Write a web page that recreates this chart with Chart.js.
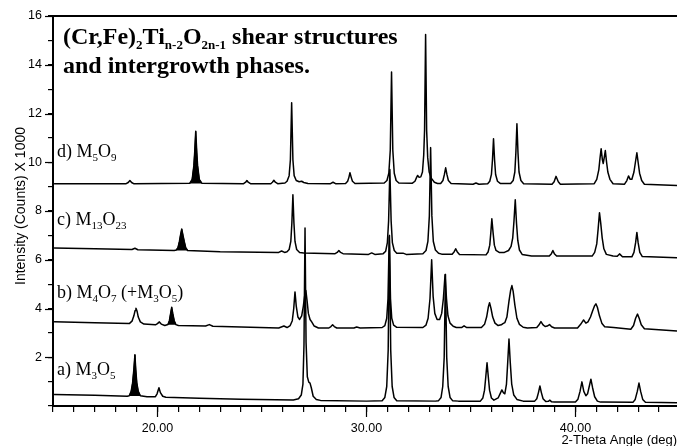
<!DOCTYPE html>
<html>
<head>
<meta charset="utf-8">
<script src="https://cdn.jsdelivr.net/npm/chart.js@4.4.1/dist/chart.umd.min.js"></script>
<style>
html,body{margin:0;padding:0;background:#fff;}
canvas{display:block;}
</style>
</head>
<body>
<canvas id="c" width="677" height="446"></canvas>
<script>
// ---- data (2-theta in deg, intensity in counts x 1000) ----
const xTickLabels = ['20.00', '30.00', '40.00'];
const yTickLabels = ['2', '4', '6', '8', '10', '12', '14', '16'];

const traceA = [[15.05,0.47],[17,0.44],[18.55,0.4],[18.65,0.42],[18.74,0.6],[18.81,0.95],[18.87,1.5],[18.92,2.1],[18.96,1.5],[19.01,0.95],[19.08,0.6],[19.18,0.42],[19.5,0.38],[19.9,0.38],[19.98,0.5],[20.07,0.75],[20.14,0.55],[20.25,0.4],[20.4,0.36],[22,0.32],[24,0.28],[26.5,0.25],[26.75,0.3],[26.88,0.45],[26.96,0.9],[27.01,2.5],[27.06,7.3],[27.11,2.6],[27.17,1.2],[27.24,0.98],[27.3,0.94],[27.36,0.75],[27.45,0.4],[27.6,0.27],[27.8,0.23],[30,0.2],[30.75,0.22],[30.88,0.35],[30.97,0.8],[31.04,2.3],[31.1,7.0],[31.16,2.3],[31.23,0.8],[31.32,0.35],[31.45,0.22],[33.3,0.2],[33.45,0.22],[33.57,0.35],[33.65,0.8],[33.72,2.0],[33.78,5.4],[33.84,2.0],[33.91,0.8],[34.0,0.35],[34.12,0.22],[34.4,0.2],[35.45,0.2],[35.57,0.33],[35.65,0.65],[35.71,1.2],[35.77,1.77],[35.83,1.2],[35.89,0.65],[35.98,0.33],[36.1,0.24],[36.3,0.33],[36.42,0.55],[36.48,0.66],[36.55,0.55],[36.62,0.5],[36.7,0.9],[36.76,1.8],[36.82,2.75],[36.88,1.8],[36.95,0.9],[37.05,0.45],[37.2,0.27],[37.5,0.2],[38.05,0.2],[38.15,0.3],[38.23,0.55],[38.3,0.82],[38.37,0.55],[38.45,0.3],[38.58,0.18],[38.7,0.19],[38.78,0.24],[38.86,0.17],[39.0,0.16],[40.0,0.16],[40.12,0.28],[40.22,0.6],[40.31,0.99],[40.4,0.6],[40.5,0.42],[40.58,0.5],[40.66,0.8],[40.74,1.1],[40.82,0.75],[40.92,0.38],[41.05,0.2],[41.2,0.16],[42.75,0.15],[42.86,0.27],[42.96,0.6],[43.04,0.94],[43.12,0.6],[43.22,0.27],[43.35,0.15],[44.86,0.13]];

const traceB = [[15.05,3.46],[17,3.42],[18.65,3.38],[18.78,3.48],[18.87,3.7],[18.93,3.92],[18.97,4.01],[19.02,3.9],[19.08,3.65],[19.18,3.45],[19.35,3.36],[19.9,3.33],[20.0,3.38],[20.09,3.45],[20.18,3.36],[20.35,3.3],[20.5,3.34],[20.57,3.5],[20.63,3.8],[20.68,4.05],[20.73,3.8],[20.8,3.5],[20.88,3.34],[21.0,3.3],[22.3,3.28],[22.48,3.34],[22.65,3.27],[25.8,3.2],[26.05,3.28],[26.2,3.22],[26.35,3.3],[26.45,3.5],[26.52,4.0],[26.58,4.68],[26.64,4.1],[26.72,3.65],[26.8,3.55],[26.9,3.7],[26.98,4.1],[27.04,4.5],[27.1,4.74],[27.16,4.3],[27.22,3.8],[27.3,3.55],[27.38,3.45],[27.5,3.28],[27.7,3.2],[28.2,3.2],[28.3,3.26],[28.38,3.33],[28.46,3.26],[28.58,3.2],[29.4,3.2],[29.53,3.24],[29.7,3.2],[30.75,3.22],[30.88,3.3],[30.97,3.6],[31.03,4.4],[31.09,6.94],[31.15,4.4],[31.21,3.6],[31.3,3.32],[31.45,3.23],[32.7,3.22],[32.85,3.32],[32.95,3.6],[33.04,4.4],[33.12,6.0],[33.19,4.5],[33.27,3.8],[33.38,3.55],[33.5,3.55],[33.6,3.8],[33.68,4.4],[33.76,5.38],[33.83,4.4],[33.9,3.7],[34.0,3.4],[34.15,3.27],[34.3,3.22],[34.55,3.22],[34.67,3.29],[34.8,3.22],[35.5,3.22],[35.65,3.35],[35.75,3.65],[35.83,4.05],[35.89,4.24],[35.96,4.0],[36.04,3.65],[36.15,3.4],[36.3,3.3],[36.45,3.33],[36.53,3.38],[36.62,3.42],[36.72,3.65],[36.82,4.3],[36.9,4.75],[36.96,4.94],[37.02,4.7],[37.1,4.15],[37.2,3.6],[37.32,3.35],[37.5,3.23],[37.7,3.2],[38.15,3.22],[38.25,3.32],[38.35,3.46],[38.45,3.33],[38.55,3.26],[38.65,3.28],[38.76,3.34],[38.86,3.25],[39.0,3.2],[40.1,3.2],[40.25,3.35],[40.39,3.53],[40.5,3.4],[40.6,3.45],[40.72,3.65],[40.82,3.9],[40.92,4.12],[40.98,4.19],[41.05,4.05],[41.15,3.7],[41.27,3.38],[41.4,3.25],[41.83,3.22],[42.65,3.15],[42.78,3.3],[42.88,3.6],[42.97,3.77],[43.05,3.6],[43.15,3.33],[43.3,3.17],[44.86,3.08]];

const traceC = [[15.05,6.48],[17,6.45],[18.78,6.42],[18.92,6.47],[19.06,6.41],[20.8,6.38],[20.9,6.4],[20.98,6.5],[21.05,6.75],[21.1,7.0],[21.16,7.26],[21.22,7.0],[21.28,6.75],[21.35,6.5],[21.44,6.38],[23,6.33],[25.8,6.3],[25.94,6.36],[26.08,6.3],[26.2,6.33],[26.3,6.42],[26.38,6.75],[26.43,7.5],[26.48,8.67],[26.53,7.5],[26.58,6.75],[26.66,6.42],[26.8,6.3],[27.0,6.28],[28.5,6.25],[28.6,6.3],[28.68,6.38],[28.76,6.3],[28.88,6.25],[30.1,6.22],[30.25,6.28],[30.4,6.22],[30.8,6.25],[30.92,6.35],[31.0,6.7],[31.06,7.6],[31.12,9.7],[31.18,7.6],[31.24,6.7],[31.33,6.38],[31.45,6.27],[31.75,6.27],[31.9,6.22],[32.7,6.25],[32.85,6.38],[32.94,6.75],[33.01,7.8],[33.07,10.6],[33.13,7.8],[33.2,6.75],[33.3,6.4],[33.45,6.27],[33.6,6.23],[34.1,6.23],[34.2,6.33],[34.27,6.45],[34.34,6.33],[34.45,6.22],[35.72,6.2],[35.82,6.32],[35.9,6.6],[35.95,7.1],[36.0,7.68],[36.06,7.1],[36.12,6.6],[36.2,6.38],[36.35,6.3],[36.6,6.3],[36.8,6.38],[36.92,6.55],[37.0,6.9],[37.06,7.6],[37.12,8.46],[37.18,7.5],[37.24,6.8],[37.32,6.4],[37.45,6.22],[37.9,6.15],[38.75,6.15],[38.85,6.25],[38.92,6.38],[38.99,6.25],[39.1,6.15],[40.8,6.15],[40.92,6.3],[41.02,6.65],[41.09,7.3],[41.15,7.93],[41.21,7.5],[41.28,6.9],[41.36,6.45],[41.48,6.22],[41.8,6.15],[42.0,6.14],[42.11,6.24],[42.25,6.12],[42.7,6.12],[42.8,6.3],[42.88,6.7],[42.94,7.12],[43.0,6.7],[43.08,6.3],[43.2,6.13],[44.86,6.08]];

const traceD = [[15.05,9.12],[18.5,9.12],[18.6,9.17],[18.68,9.25],[18.76,9.17],[18.86,9.12],[21.55,9.14],[21.66,9.3],[21.74,9.85],[21.78,10.4],[21.83,11.27],[21.88,10.4],[21.92,9.85],[22.0,9.3],[22.12,9.14],[24.12,9.12],[24.22,9.18],[24.28,9.25],[24.34,9.18],[24.45,9.12],[25.42,9.12],[25.5,9.18],[25.57,9.26],[25.64,9.18],[25.75,9.12],[26.1,9.15],[26.2,9.22],[26.3,9.45],[26.36,10.1],[26.42,12.44],[26.48,10.1],[26.54,9.45],[26.64,9.25],[26.78,9.2],[26.9,9.22],[27.0,9.17],[27.2,9.13],[28.28,9.12],[28.4,9.18],[28.52,9.12],[29.0,9.13],[29.1,9.22],[29.16,9.38],[29.21,9.57],[29.27,9.38],[29.33,9.22],[29.45,9.13],[30.85,9.15],[30.98,9.25],[31.07,9.55],[31.14,10.5],[31.2,13.7],[31.26,10.5],[31.33,9.55],[31.42,9.25],[31.55,9.15],[32.2,9.14],[32.32,9.22],[32.4,9.38],[32.45,9.46],[32.52,9.38],[32.6,9.4],[32.68,9.6],[32.74,10.3],[32.78,11.3],[32.83,15.24],[32.88,11.3],[32.93,10.2],[33.0,9.6],[33.1,9.35],[33.25,9.18],[33.4,9.13],[33.55,9.13],[33.66,9.25],[33.73,9.5],[33.79,9.77],[33.85,9.5],[33.92,9.25],[34.05,9.13],[35.1,9.1],[35.24,9.15],[35.38,9.1],[35.8,9.12],[35.9,9.22],[35.98,9.5],[36.03,10.1],[36.08,10.96],[36.13,10.1],[36.18,9.5],[36.27,9.22],[36.4,9.13],[36.9,9.13],[37.02,9.25],[37.1,9.6],[37.15,10.4],[37.2,11.58],[37.25,10.4],[37.3,9.6],[37.39,9.25],[37.52,9.12],[38.88,9.1],[38.98,9.2],[39.03,9.32],[39.07,9.42],[39.12,9.32],[39.18,9.2],[39.28,9.1],[40.9,9.12],[41.02,9.3],[41.12,9.7],[41.18,10.2],[41.23,10.55],[41.29,10.1],[41.33,9.95],[41.38,10.2],[41.43,10.48],[41.49,10.0],[41.55,9.6],[41.65,9.3],[41.8,9.12],[42.35,9.1],[42.46,9.25],[42.54,9.44],[42.62,9.3],[42.7,9.3],[42.8,9.6],[42.87,10.0],[42.94,10.39],[43.0,10.0],[43.07,9.55],[43.17,9.25],[43.3,9.1],[44.86,9.05]];

// filled (black) marker peaks and the level they are filled down to
const filledA = [[18.65,0.42],[18.74,0.6],[18.81,0.95],[18.87,1.5],[18.92,2.1],[18.96,1.5],[19.01,0.95],[19.08,0.6],[19.18,0.42]];
const filledB = [[20.5,3.34],[20.57,3.5],[20.63,3.8],[20.68,4.05],[20.73,3.8],[20.8,3.5],[20.88,3.34]];
const filledC = [[20.9,6.4],[20.98,6.5],[21.05,6.75],[21.1,7.0],[21.16,7.26],[21.22,7.0],[21.28,6.75],[21.35,6.5],[21.44,6.38]];
const filledD = [[21.55,9.14],[21.66,9.3],[21.74,9.85],[21.78,10.4],[21.83,11.27],[21.88,10.4],[21.92,9.85],[22.0,9.3],[22.12,9.14]];
const filledBase = [0.41, 3.33, 6.38, 9.13];

const X_MIN = 15, X_MAX = 44.86, Y_MIN = 0, Y_MAX = 16;

const toXY = arr => arr.map(p => ({x: p[0], y: p[1]}));

const lineDs = (d) => ({
  data: toXY(d), showLine: true, borderColor: '#000', borderWidth: 1.5,
  pointRadius: 0, fill: false, tension: 0, borderJoinStyle: 'round', order: 1
});
const fillDs = (d, base) => ({
  data: toXY(d), showLine: true, borderColor: '#000', borderWidth: 1,
  backgroundColor: '#000', pointRadius: 0, fill: {value: base}, tension: 0, order: 2
});

function drawRich(ctx, x, y, parts, size, bold, subSize, subDrop) {
  const fam = '"Liberation Serif", "Times New Roman", serif';
  let cx = x;
  for (const p of parts) {
    const s = p.sub ? subSize : size;
    ctx.font = (bold ? 'bold ' : '') + s + 'px ' + fam;
    ctx.fillText(p.t, cx, p.sub ? y + subDrop : y);
    cx += ctx.measureText(p.t).width;
  }
}

const textPlugin = {
  id: 'texts',
  afterDraw(chart) {
    const ctx = chart.ctx;
    const xs = chart.scales.x;
    const ys = chart.scales.y;
    ctx.save();
    ctx.fillStyle = '#000';
    ctx.textBaseline = 'alphabetic';
    ctx.textAlign = 'left';
    // longer major ticks on both axes
    ctx.strokeStyle = '#000';
    ctx.lineWidth = 1.2;
    [20, 30, 40].forEach(v => {
      const px = Math.round(xs.getPixelForValue(v)) + 0.5;
      ctx.beginPath(); ctx.moveTo(px, xs.top); ctx.lineTo(px, xs.top + 11); ctx.stroke();
    });
    [2, 4, 6, 8, 10, 12, 14, 16].forEach(v => {
      const py = Math.round(ys.getPixelForValue(v)) + 0.5;
      ctx.beginPath(); ctx.moveTo(ys.right, py); ctx.lineTo(ys.right - 8, py); ctx.stroke();
    });
    // title
    drawRich(ctx, 63, 44, [{t:'(Cr,Fe)'},{t:'2',sub:1},{t:'Ti'},{t:'n-2',sub:1},{t:'O'},{t:'2n-1',sub:1},{t:' shear structures'}], 24, true, 13, 5);
    drawRich(ctx, 63, 73, [{t:'and intergrowth phases.'}], 24, true, 13, 5);
    // trace labels
    drawRich(ctx, 57, 157, [{t:'d) M'},{t:'5',sub:1},{t:'O'},{t:'9',sub:1}], 18, false, 11, 4);
    drawRich(ctx, 57, 225, [{t:'c) M'},{t:'13',sub:1},{t:'O'},{t:'23',sub:1}], 18, false, 11, 4);
    drawRich(ctx, 57, 298, [{t:'b) M'},{t:'4',sub:1},{t:'O'},{t:'7',sub:1},{t:' (+M'},{t:'3',sub:1},{t:'O'},{t:'5',sub:1},{t:')'}], 18, false, 11, 4);
    drawRich(ctx, 57, 375, [{t:'a) M'},{t:'3',sub:1},{t:'O'},{t:'5',sub:1}], 18, false, 11, 4);
    // axis titles
    ctx.font = '13px "Liberation Sans", Arial, sans-serif';
    ctx.textAlign = 'right';
    ctx.fillText('2-Theta Angle (deg)', 677, 444);
    ctx.translate(21, 206);
    ctx.rotate(-Math.PI / 2);
    ctx.textAlign = 'center';
    ctx.textBaseline = 'middle';
    ctx.font = '14px "Liberation Sans", Arial, sans-serif';
    ctx.fillText('Intensity (Counts) X 1000', 0, 0);
    ctx.restore();
  }
};

new Chart(document.getElementById('c'), {
  type: 'scatter',
  data: {
    datasets: [
      lineDs(traceA), lineDs(traceB), lineDs(traceC), lineDs(traceD),
      fillDs(filledA, filledBase[0]), fillDs(filledB, filledBase[1]),
      fillDs(filledC, filledBase[2]), fillDs(filledD, filledBase[3])
    ]
  },
  options: {
    responsive: false, animation: false, devicePixelRatio: 1,
    layout: {padding: {top: 16, right: 0, left: 0, bottom: 0}},
    plugins: {legend: {display: false}, tooltip: {enabled: false}},
    scales: {
      x: {
        type: 'linear', position: 'bottom', min: X_MIN, max: X_MAX,
        afterFit: s => { s.height = 40; },
        ticks: {
          stepSize: 1, autoSkip: false, maxRotation: 0, includeBounds: false, padding: 9,
          color: '#000', font: {family: '"Liberation Sans", Arial, sans-serif', size: 12.5},
          callback: v => { const i = [20, 30, 40].indexOf(v); return i >= 0 ? xTickLabels[i] : ''; }
        },
        grid: {drawOnChartArea: false, drawTicks: true, tickLength: 6, color: '#000', lineWidth: 1.2},
        border: {display: true, color: '#000', width: 2}
      },
      xTop: {
        type: 'linear', position: 'top', min: X_MIN, max: X_MAX,
        afterFit: s => { s.height = 0; },
        ticks: {display: false},
        grid: {drawOnChartArea: false, drawTicks: false, color: '#000'},
        border: {display: true, color: '#000', width: 2}
      },
      y: {
        type: 'linear', position: 'left', min: Y_MIN, max: Y_MAX,
        afterFit: s => { s.width = 53; },
        ticks: {
          stepSize: 1, autoSkip: false, padding: 6, color: '#000',
          font: {family: '"Liberation Sans", Arial, sans-serif', size: 12.5},
          callback: v => { const i = yTickLabels.indexOf(String(v)); return i >= 0 ? yTickLabels[i] : ''; }
        },
        grid: {drawOnChartArea: false, drawTicks: true, tickLength: 5, color: '#000', lineWidth: 1.2},
        border: {display: true, color: '#000', width: 2}
      }
    }
  },
  plugins: [textPlugin]
});
</script>
</body>
</html>
